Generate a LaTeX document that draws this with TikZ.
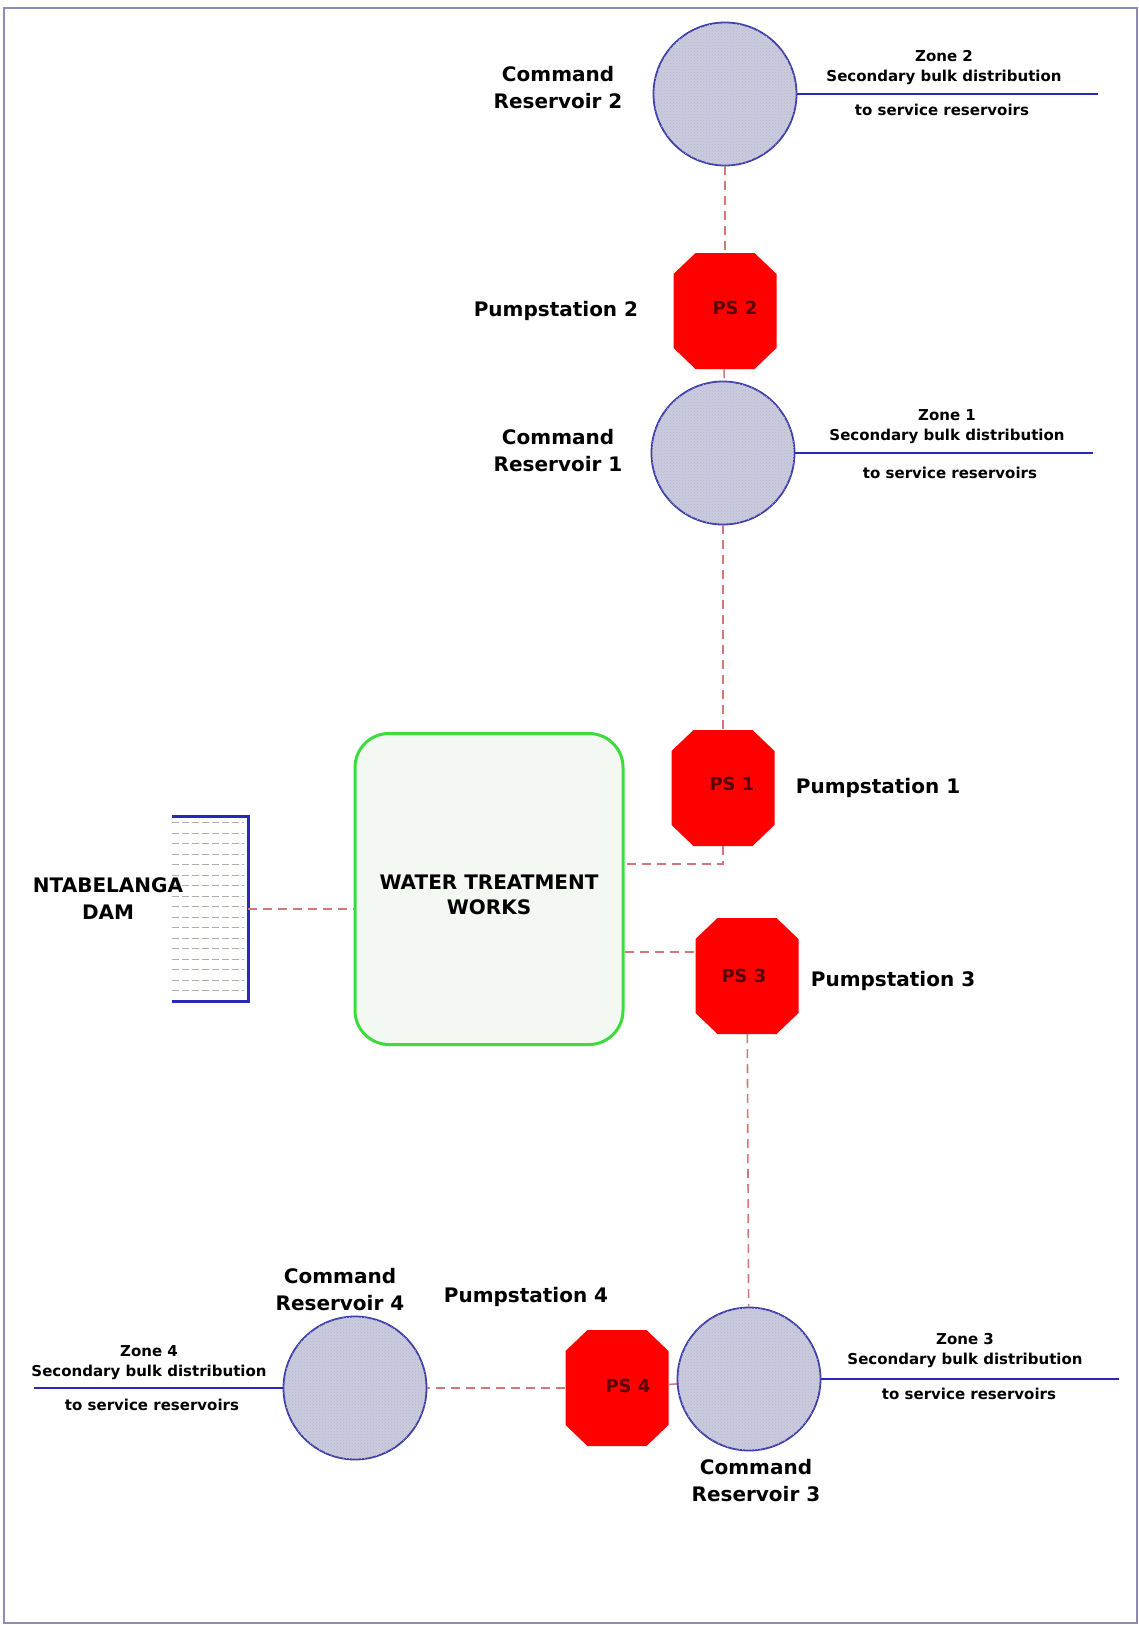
\documentclass[tikz,border=0pt]{standalone}
\usepackage{fontspec}
\setmainfont{DejaVu Sans}
\usepackage{tikz}
\usetikzlibrary{positioning,patterns}

\definecolor{pipeblue}{RGB}{40,40,190}
\definecolor{resblue}{RGB}{60,60,170}
\definecolor{resfill}{RGB}{202,203,226}
\definecolor{pumpred}{RGB}{255,0,0}
\definecolor{pstext}{RGB}{90,0,0}
\definecolor{wtwgreen}{RGB}{60,220,60}
\definecolor{wtwfill}{RGB}{243,248,243}
\definecolor{dashred}{RGB}{210,120,120}
\definecolor{framegray}{RGB}{140,140,185}
\definecolor{hatchgray}{RGB}{175,175,165}

\begin{document}
\begin{tikzpicture}[
    x=1pt, y=-1pt,
    reservoir/.style={circle, draw=resblue, line width=1.8pt, fill=resfill, minimum size=143pt, inner sep=0pt,
        postaction={pattern=crosshatch dots, pattern color=gray!55}},
    pump/.style={rectangle, minimum width=103pt, minimum height=116pt, inner sep=0pt,
        path picture={
            \fill[pumpred] ([xshift=22pt]path picture bounding box.north west)
                -- ([xshift=-22pt]path picture bounding box.north east)
                -- ([yshift=-21pt]path picture bounding box.north east)
                -- ([yshift=21pt]path picture bounding box.south east)
                -- ([xshift=-22pt]path picture bounding box.south east)
                -- ([xshift=22pt]path picture bounding box.south west)
                -- ([yshift=21pt]path picture bounding box.south west)
                -- ([yshift=-21pt]path picture bounding box.north west) -- cycle;
        }},
    pslabel/.style={font=\fontsize{18}{20}\selectfont\bfseries, text=pstext},
    works/.style={rectangle, draw=wtwgreen, line width=3pt, fill=wtwfill, rounded corners=34pt,
        minimum width=268pt, minimum height=311pt},
    wtwlabel/.style={font=\fontsize{20}{25}\selectfont\bfseries, align=center},
    lbl/.style={font=\fontsize{20}{27}\selectfont\bfseries, align=center, inner sep=1pt},
    zone/.style={font=\fontsize{15}{20}\selectfont\bfseries, align=center, inner sep=1pt},
    pipe/.style={draw=pipeblue, line width=2.5pt},
    feed/.style={draw=dashred, line width=1.6pt, dash pattern=on 9pt off 6pt}
]
    \useasboundingbox (0,0) rectangle (1139,1625);
    \draw[framegray, line width=1.5pt] (4,8) rectangle (1137,1623);

    % reservoirs and pumpstations
    \node[reservoir] (cr2) at (725,94) {};
    \node[pump, label={[pslabel, xshift=10pt, yshift=3pt]center:PS 2}] (ps2) at (725,311) {};
    \node[reservoir] (cr1) at (723,453) {};
    \node[pump, label={[pslabel, xshift=9pt, yshift=4pt]center:PS 1}] (ps1) at (723,788) {};
    \node[pump, label={[pslabel, xshift=-3pt]center:PS 3}] (ps3) at (747,976) {};
    \node[reservoir] (cr3) at (749,1379) {};
    \node[pump, label={[pslabel, xshift=11pt, yshift=2pt]center:PS 4}] (ps4) at (617,1388) {};
    \node[reservoir] (cr4) at (355,1388) {};

    \node[works, label={[wtwlabel, yshift=-6pt]center:WATER TREATMENT\\WORKS}] (wtw) at (489,889) {};

    % dam
    \node[minimum width=76pt, minimum height=184pt, inner sep=0pt] (dam) at (210,909) {};
    \foreach \r in {0,...,16}
        \draw[hatchgray, line width=0.9pt, dash pattern=on 7pt off 3pt]
            ([yshift=-6pt-\r*10.5pt]dam.north west) -- ++(72,0);
    \draw[pipe, line width=3pt] (dam.north west) -- (dam.north east) -- (dam.south east) -- (dam.south west);

    % labels
    \node[lbl, left=29pt of cr2, yshift=6pt] (cr2lbl) {Command\\Reservoir 2};
    \node[lbl, left=34pt of ps2] (ps2lbl) {Pumpstation 2};
    \node[lbl, left=27pt of cr1, yshift=2pt] (cr1lbl) {Command\\Reservoir 1};
    \node[lbl, right=20pt of ps1] (ps1lbl) {Pumpstation 1};
    \node[lbl, right=11pt of ps3, yshift=-5pt] (ps3lbl) {Pumpstation 3};
    \node[lbl, below=7pt of cr3, xshift=7pt] (cr3lbl) {Command\\Reservoir 3};
    \node[lbl] (ps4lbl) at (526,1297) {Pumpstation 4};
    \node[lbl] (cr4lbl) at (340,1290) {Command\\Reservoir 4};
    \node[lbl] (damlbl) at (108,899) {NTABELANGA\\DAM};

    % secondary bulk distribution
    \coordinate (z2end) at (1098,94);
    \coordinate (z1end) at (1093,453);
    \coordinate (z3end) at (1119,1379);
    \coordinate (z4end) at (34,1388);
    \draw[pipe] (cr2.east) -- (z2end);
    \draw[pipe] (cr1.east) -- (z1end);
    \draw[pipe] (cr3.east) -- (z3end);
    \draw[pipe] (cr4.west) -- (z4end);

    \node[zone] (z2top) at (944,68) {Zone 2\\Secondary bulk distribution};
    \node[zone] (z2bot) at (942,110) {to service reservoirs};
    \node[zone] (z1top) at (947,427) {Zone 1\\Secondary bulk distribution};
    \node[zone] (z1bot) at (950,473) {to service reservoirs};
    \node[zone] (z3top) at (965,1351) {Zone 3\\Secondary bulk distribution};
    \node[zone] (z3bot) at (969,1394) {to service reservoirs};
    \node[zone] (z4top) at (149,1363) {Zone 4\\Secondary bulk distribution};
    \node[zone] (z4bot) at (152,1405) {to service reservoirs};

    % bulk supply
    \coordinate (wtwout1) at ([yshift=25pt]wtw.east);
    \coordinate (wtwout3) at ([yshift=-63pt]wtw.east);
    \draw[feed] (dam.east) -- (dam.east -| wtw.west);
    \draw[feed] (ps1.south) |- (wtwout1);
    \draw[feed] (wtwout3) -- (wtwout3 -| ps3.west);
    \draw[feed] (cr1) -- (ps1);
    \draw[feed] (ps2) -- (cr1);
    \draw[feed] (cr2) -- (ps2);
    \draw[feed] (ps3) -- (cr3);
    \draw[feed] (cr3) -- (ps4);
    \draw[feed] (ps4) -- (cr4);
\end{tikzpicture}
\end{document}
